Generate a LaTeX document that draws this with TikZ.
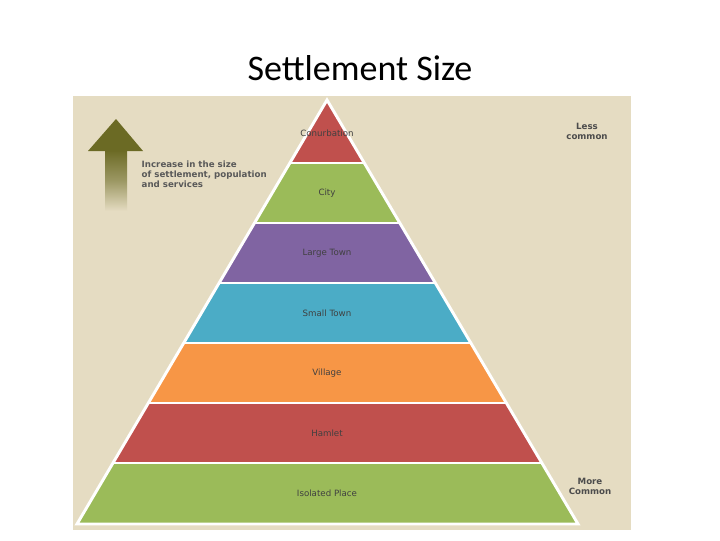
\documentclass[tikz,border=0pt]{standalone}
\usepackage{fontspec}
\setmainfont{Carlito}
\newfontfamily\lab{DejaVu Sans}
\definecolor{bg}{HTML}{E5DCC2}
\definecolor{cred}{HTML}{C0504D}
\definecolor{cgreen}{HTML}{9BBB59}
\definecolor{cpurple}{HTML}{8064A2}
\definecolor{cteal}{HTML}{4BACC6}
\definecolor{corange}{HTML}{F79646}
\definecolor{olive}{HTML}{6B6A24}
\tikzset{lbl/.style={font=\lab\fontsize{6.5}{7}\selectfont, text=black!75},
side/.style={font=\lab\bfseries\fontsize{6.5}{7.5}\selectfont, text=black!70, align=center}}
\begin{document}
\begin{tikzpicture}[x=0.75pt,y=-0.75pt]
\useasboundingbox (0,0) rectangle (720,540);
\fill[white] (0,0) rectangle (720,540);
\node[font=\fontsize{27}{32}\selectfont] (title) at (360,68) {Settlement Size};
\fill[bg] (73,96) rectangle (631,530);
% arrow
\shade[top color=olive, bottom color=bg, middle color=olive!60!bg] (105,150) rectangle (127,211);
\fill[olive] (116,119) -- (143,151) -- (88,151) -- cycle;
\node[lbl, font=\lab\bfseries\fontsize{6.5}{7.5}\selectfont, align=left, anchor=north west, text=black!65] (inc) at (137,156) {Increase in the size\\of settlement, population\\and services};
\node[side] (less) at (587,131) {Less\\common};
\node[side] (more) at (590,486) {More\\Common};
% pyramid
\begin{scope}
\clip (327,100) -- (578,524) -- (77,524) -- cycle;
\fill[cred] (0,90) rectangle (720,163);
\fill[cgreen] (0,163) rectangle (720,223);
\fill[cpurple] (0,223) rectangle (720,283);
\fill[cteal] (0,283) rectangle (720,343);
\fill[corange] (0,343) rectangle (720,403);
\fill[cred] (0,403) rectangle (720,463);
\fill[cgreen] (0,463) rectangle (720,530);
\foreach \y in {163,223,283,343,403,463} \draw[white, line width=2.2pt] (0,\y) -- (720,\y);
\end{scope}
\draw[white, line width=2.2pt, line join=miter] (327,100) -- (578,524) -- (77,524) -- cycle;
\node[lbl] (n1) at (327,133) {Conurbation};
\node[lbl] (n2) at (327,193) {City};
\node[lbl] (n3) at (327,253) {Large Town};
\node[lbl] (n4) at (327,313) {Small Town};
\node[lbl] (n5) at (327,373) {Village};
\node[lbl] (n6) at (327,433) {Hamlet};
\node[lbl] (n7) at (327,493) {Isolated Place};
\end{tikzpicture}
\end{document}
